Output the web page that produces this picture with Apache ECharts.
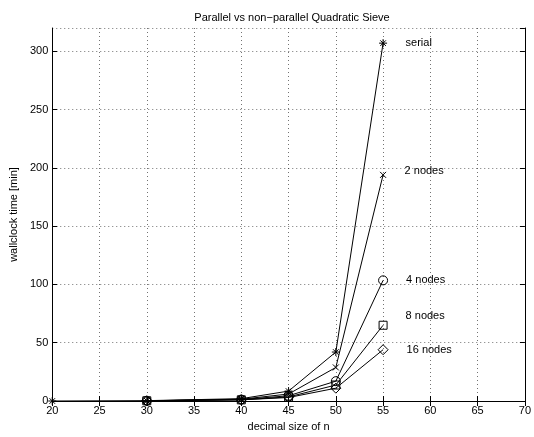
<!DOCTYPE html>
<html>
<head>
<meta charset="utf-8">
<script src="https://cdn.jsdelivr.net/npm/echarts@6/dist/echarts.min.js"></script>
<style>html,body{margin:0;padding:0;background:#fff}#c{width:534px;height:437px}</style>
</head>
<body>
<div id="c"></div>
<script>
const sizes = [20, 30, 40, 45, 50, 55];
const serial = [0, 0.3, 2, 8.5, 42, 307];
const nodes2 = [null, 0.2, 1.5, 6, 28.8, 194];
const nodes4 = [null, 0.2, 1.2, 4.5, 17, 103.5];
const nodes8 = [null, 0.2, 1, 3.5, 13.7, 65];
const nodes16 = [null, 0.2, 1, 3, 11, 44];
const seriesNames = ['serial', '2 nodes', '4 nodes', '8 nodes', '16 nodes'];
const xTicks = [20, 25, 30, 35, 40, 45, 50, 55, 60, 65, 70];
const yTicks = [0, 50, 100, 150, 200, 250, 300];

const FONT = 'Liberation Sans, Arial, Helvetica, sans-serif';
const asterisk = 'path://M5 0L5 10M0 5L10 5M1.5 1.5L8.5 8.5M8.5 1.5L1.5 8.5';
const cross = 'path://M0 0L10 10M10 0L0 10';
const diamond = 'path://M5 0L10 5L5 10L0 5Z';

function mk(name, vals, symbol, size, labelOffset) {
  const data = [];
  vals.forEach((v, i) => { if (v !== null) data.push([sizes[i], v]); });
  const last = data.length - 1;
  return {
    name: name, type: 'line', data: data.map((d, i) => i === last ? {
      value: d,
      label: { show: true, position: 'right', distance: 18, offset: labelOffset,
               formatter: name, color: '#000', fontFamily: FONT, fontSize: 11 }
    } : d),
    symbol: symbol, symbolSize: size, showAllSymbol: true,
    lineStyle: { color: '#000', width: 1 },
    itemStyle: { color: 'rgba(0,0,0,0)', borderColor: '#000', borderWidth: 1 },
    animation: false, z: 5
  };
}

const chart = echarts.init(document.getElementById('c'), null, { renderer: 'canvas' });
const gridLine = { show: true, lineStyle: { color: '#000', type: [1, 3], width: 1, opacity: 0.55 } };
chart.setOption({
  animation: false,
  backgroundColor: '#fff',
  title: { text: 'Parallel vs non\u2212parallel Quadratic Sieve', left: 287, top: 7, textAlign: 'center',
           textStyle: { fontFamily: FONT, fontSize: 11, fontWeight: 'normal', color: '#000' } },
  grid: { left: 46, right: 6, top: 28, bottom: 28 },
  xAxis: [{
    type: 'value', min: 20, max: 70, interval: 5,
    name: 'decimal size of n', nameLocation: 'middle', nameGap: 20,
    nameTextStyle: { fontFamily: FONT, fontSize: 11, color: '#000' },
    axisLine: { lineStyle: { color: '#000', width: 1 } },
    axisTick: { inside: true, length: 5, lineStyle: { color: '#000' } },
    axisLabel: { fontFamily: FONT, fontSize: 11, color: '#000', margin: 4,
                 formatter: v => xTicks.includes(v) ? String(v) : '' },
    splitLine: gridLine
  }, {
    type: 'value', min: 20, max: 70, interval: 5, position: 'top',
    axisLine: { show: true, lineStyle: { color: '#000', width: 1 } },
    axisTick: { inside: true, length: 5, lineStyle: { color: '#000' } },
    axisLabel: { show: false }, splitLine: { show: false }
  }],
  yAxis: [{
    type: 'value', min: 0, max: 320, interval: 50,
    name: 'wallclock time [min]', nameLocation: 'middle', nameGap: 30, nameRotate: 90,
    nameTextStyle: { fontFamily: FONT, fontSize: 11, color: '#000' },
    axisLine: { show: true, lineStyle: { color: '#000', width: 1 } },
    axisTick: { show: true, inside: true, length: 5, lineStyle: { color: '#000' } },
    axisLabel: { fontFamily: FONT, fontSize: 11, color: '#000', margin: 4, showMaxLabel: false,
                 formatter: v => yTicks.includes(v) ? String(v) : '' },
    splitLine: gridLine
  }, {
    type: 'value', min: 0, max: 320, interval: 50, position: 'right',
    axisLine: { show: true, lineStyle: { color: '#000', width: 1 } },
    axisTick: { show: true, inside: true, length: 5, lineStyle: { color: '#000' } },
    axisLabel: { show: false }, splitLine: { show: false }
  }],
  series: [
    mk(seriesNames[0], serial, asterisk, 8, [0, 0]),
    mk(seriesNames[1], nodes2, cross, 6, [0, -4]),
    mk(seriesNames[2], nodes4, 'circle', 9, [0, 0]),
    mk(seriesNames[3], nodes8, 'path://M0 0L10 0L10 10L0 10Z', 8, [0, -9]),
    mk(seriesNames[4], nodes16, diamond, 10, [0, 0])
  ]
});
</script>
</body>
</html>
